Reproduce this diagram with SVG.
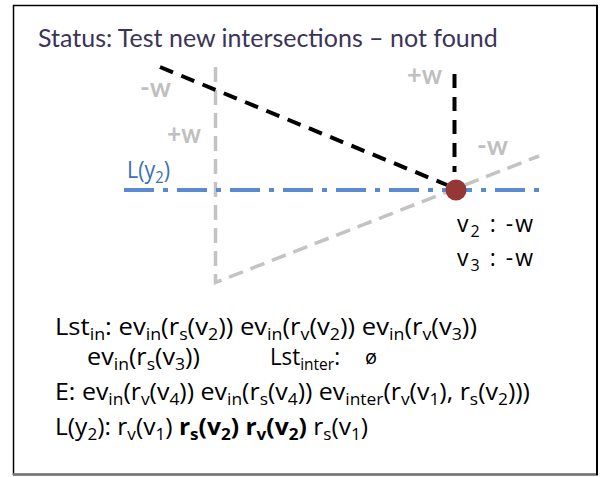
<svg xmlns="http://www.w3.org/2000/svg" width="601" height="477" viewBox="0 0 601 477">
<style>
.t{font-family:"Open Sans","Liberation Sans",sans-serif;font-size:23px;fill:#000}
.s{font-size:16px}
.g{font-family:Lato,"Liberation Sans",sans-serif;font-size:26px;font-weight:bold;fill:#bfbfbf}
.gray{stroke:#c3c3c3;stroke-width:3.5;fill:none;stroke-dasharray:15 8}
.blk{stroke:#000;stroke-width:4;fill:none;stroke-dasharray:14 9}
</style>
<rect x="13.5" y="5.5" width="583.5" height="469" fill="#fff" stroke="#000" stroke-width="1.5"/>
<line x1="13" y1="474.5" x2="598" y2="474.5" stroke="#777" stroke-width="2.5"/>
<line x1="597" y1="5" x2="597" y2="475" stroke="#000" stroke-width="2"/>
<g id="title"><text x="38" y="47" style="font-family:Lato,'Liberation Sans',sans-serif;font-size:25px;fill:#3c3458">Status: Test new intersections – not found</text></g>
<g id="connectors">
<path class="gray" d="M215.5,67 V282.5 L539,156"/>
<line class="blk" x1="160" y1="67" x2="447" y2="185"/>
<line class="blk" x1="454.5" y1="74" x2="454.5" y2="172"/>
<line x1="124" y1="190" x2="543" y2="190" stroke="#5a8bd2" stroke-width="4" stroke-dasharray="30 9 5 9"/>
</g>
<g id="vertex"><circle cx="456" cy="190" r="10.5" fill="#953735"/></g>
<g id="labels">
<text x="140" y="97" class="g" textLength="31" lengthAdjust="spacingAndGlyphs">-w</text>
<text x="167" y="143" class="g" textLength="34" lengthAdjust="spacingAndGlyphs">+w</text>
<text x="407" y="84" class="g" textLength="35" lengthAdjust="spacingAndGlyphs">+w</text>
<text x="477" y="155" class="g" textLength="31" lengthAdjust="spacingAndGlyphs">-w</text>
<text x="127" y="178" class="t" style="fill:#3b6fb6" textLength="43" lengthAdjust="spacingAndGlyphs">L(y<tspan dy="5" class="s">2</tspan><tspan dy="-5">)</tspan></text>
<text x="457" y="232" class="t" textLength="76" lengthAdjust="spacing">v<tspan dy="5" class="s">2</tspan><tspan dy="-5"> : -w</tspan></text>
<text x="457" y="266" class="t" textLength="76" lengthAdjust="spacing">v<tspan dy="5" class="s">3</tspan><tspan dy="-5"> : -w</tspan></text>
</g>
<g id="lists">
<text x="55" y="335" class="t" textLength="422" lengthAdjust="spacingAndGlyphs">Lst<tspan dy="5" class="s">in</tspan><tspan dy="-5">: ev</tspan><tspan dy="5" class="s">in</tspan><tspan dy="-5">(r</tspan><tspan dy="5" class="s">s</tspan><tspan dy="-5">(v</tspan><tspan dy="5" class="s">2</tspan><tspan dy="-5">)) ev</tspan><tspan dy="5" class="s">in</tspan><tspan dy="-5">(r</tspan><tspan dy="5" class="s">v</tspan><tspan dy="-5">(v</tspan><tspan dy="5" class="s">2</tspan><tspan dy="-5">)) ev</tspan><tspan dy="5" class="s">in</tspan><tspan dy="-5">(r</tspan><tspan dy="5" class="s">v</tspan><tspan dy="-5">(v</tspan><tspan dy="5" class="s">3</tspan><tspan dy="-5">))</tspan></text>
<text x="87" y="365" class="t" textLength="113" lengthAdjust="spacingAndGlyphs">ev<tspan dy="5" class="s">in</tspan><tspan dy="-5">(r</tspan><tspan dy="5" class="s">s</tspan><tspan dy="-5">(v</tspan><tspan dy="5" class="s">3</tspan><tspan dy="-5">))</tspan></text>
<text x="270" y="365" class="t" textLength="70" lengthAdjust="spacingAndGlyphs">Lst<tspan dy="5" class="s">inter</tspan><tspan dy="-5">:</tspan></text>
<text x="365" y="364" class="t" style="font-size:20px">ø</text>
<text x="55" y="400" class="t" textLength="475" lengthAdjust="spacingAndGlyphs">E: ev<tspan dy="5" class="s">in</tspan><tspan dy="-5">(r</tspan><tspan dy="5" class="s">v</tspan><tspan dy="-5">(v</tspan><tspan dy="5" class="s">4</tspan><tspan dy="-5">)) ev</tspan><tspan dy="5" class="s">in</tspan><tspan dy="-5">(r</tspan><tspan dy="5" class="s">s</tspan><tspan dy="-5">(v</tspan><tspan dy="5" class="s">4</tspan><tspan dy="-5">)) ev</tspan><tspan dy="5" class="s">inter</tspan><tspan dy="-5">(r</tspan><tspan dy="5" class="s">v</tspan><tspan dy="-5">(v</tspan><tspan dy="5" class="s">1</tspan><tspan dy="-5">), r</tspan><tspan dy="5" class="s">s</tspan><tspan dy="-5">(v</tspan><tspan dy="5" class="s">2</tspan><tspan dy="-5">)))</tspan></text>
<text x="55" y="435" class="t" textLength="313" lengthAdjust="spacingAndGlyphs">L(y<tspan dy="5" class="s">2</tspan><tspan dy="-5">): r</tspan><tspan dy="5" class="s">v</tspan><tspan dy="-5">(v</tspan><tspan dy="5" class="s">1</tspan><tspan dy="-5">) </tspan><tspan font-weight="bold">r</tspan><tspan dy="5" class="s" font-weight="bold">s</tspan><tspan dy="-5" font-weight="bold">(v</tspan><tspan dy="5" class="s" font-weight="bold">2</tspan><tspan dy="-5" font-weight="bold">) r</tspan><tspan dy="5" class="s" font-weight="bold">v</tspan><tspan dy="-5" font-weight="bold">(v</tspan><tspan dy="5" class="s" font-weight="bold">2</tspan><tspan dy="-5" font-weight="bold">)</tspan><tspan> r</tspan><tspan dy="5" class="s">s</tspan><tspan dy="-5">(v</tspan><tspan dy="5" class="s">1</tspan><tspan dy="-5">)</tspan></text>
</g>
</svg>
